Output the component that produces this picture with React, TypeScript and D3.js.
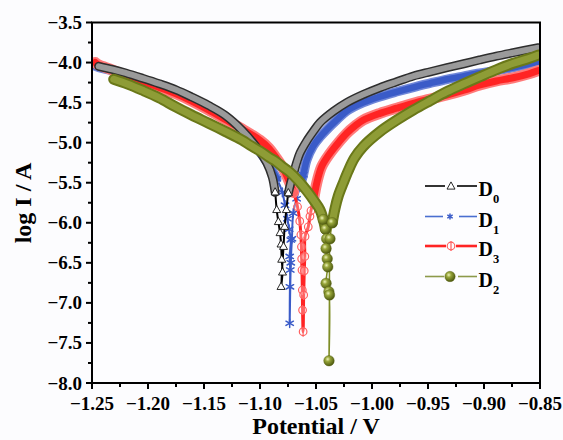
import React from 'react';
import * as d3 from 'd3';

const xTickValues = [-1.25, -1.2, -1.15, -1.1, -1.05, -1.0, -0.95, -0.9, -0.85];
const yTickValues = [-3.5, -4.0, -4.5, -5.0, -5.5, -6.0, -6.5, -7.0, -7.5, -8.0];
const xMinorValues = [-1.225, -1.175, -1.125, -1.075, -1.025, -0.975, -0.925, -0.875];
const yMinorValues = [-3.75, -4.25, -4.75, -5.25, -5.75, -6.25, -6.75, -7.25, -7.75];

const d0Potential = [-1.244,-1.232,-1.220,-1.205,-1.190,-1.175,-1.161,-1.146,-1.131,-1.116,-1.101,-1.094,-1.089,-1.0865,-1.0851,-1.0836,-1.0821,-1.0812,-1.0806,-1.0799,-1.0812,-1.0790,-1.0780,-1.0765,-1.0747,-1.0725,-1.0703,-1.0673,-1.0643,-1.0583,-1.0524,-1.0464,-1.0345,-1.0226,-1.008,-0.993,-0.978,-0.963,-0.948,-0.933,-0.918,-0.904,-0.889,-0.874,-0.8515];
const d0LogI = [-4.047,-4.085,-4.13,-4.195,-4.264,-4.34,-4.43,-4.535,-4.659,-4.846,-5.096,-5.25,-5.43,-5.62,-5.84,-5.99,-6.128,-6.27,-6.46,-6.62,-6.80,-6.30,-6.05,-5.84,-5.63,-5.50,-5.40,-5.25,-5.13,-4.98,-4.86,-4.75,-4.61,-4.50,-4.40,-4.314,-4.24,-4.168,-4.115,-4.064,-4.015,-3.968,-3.92,-3.877,-3.815];

const d1Potential = [-1.250,-1.244,-1.232,-1.220,-1.205,-1.190,-1.175,-1.161,-1.146,-1.131,-1.116,-1.101,-1.092,-1.085,-1.080,-1.0777,-1.0755,-1.074,-1.0725,-1.0735,-1.0730,-1.0733,-1.0735,-1.0725,-1.0715,-1.0703,-1.0673,-1.0643,-1.0613,-1.0583,-1.0524,-1.0464,-1.0405,-1.0315,-1.0226,-1.008,-0.993,-0.978,-0.963,-0.948,-0.933,-0.918,-0.904,-0.889,-0.874,-0.8515];
const d1LogI = [-4.03,-4.06,-4.10,-4.15,-4.215,-4.285,-4.365,-4.455,-4.56,-4.685,-4.87,-5.10,-5.28,-5.45,-5.62,-5.78,-5.95,-6.08,-6.215,-6.42,-6.59,-6.80,-7.255,-6.50,-6.20,-5.88,-5.70,-5.55,-5.40,-5.22,-5.04,-4.93,-4.84,-4.717,-4.605,-4.50,-4.426,-4.365,-4.309,-4.258,-4.209,-4.17,-4.134,-4.10,-4.064,-3.989];

const d3Potential = [-1.247,-1.244,-1.232,-1.220,-1.205,-1.190,-1.175,-1.161,-1.146,-1.131,-1.116,-1.100,-1.092,-1.085,-1.079,-1.075,-1.070,-1.0665,-1.0645,-1.0635,-1.0630,-1.0628,-1.0625,-1.0622,-1.0620,-1.0615,-1.0610,-1.0605,-1.0600,-1.0598,-1.0569,-1.0554,-1.0545,-1.052,-1.0494,-1.045,-1.0375,-1.030,-1.0226,-1.015,-1.0077,-0.9929,-0.978,-0.9631,-0.948,-0.9333,-0.918,-0.9036,-0.889,-0.874,-0.860,-0.8515];
const d3LogI = [-4.00,-4.03,-4.09,-4.16,-4.235,-4.31,-4.39,-4.48,-4.59,-4.71,-4.83,-4.97,-5.07,-5.20,-5.33,-5.45,-5.62,-5.80,-5.98,-6.15,-6.30,-6.45,-6.59,-6.84,-7.09,-7.36,-6.90,-6.60,-6.42,-6.17,-6.05,-5.92,-5.85,-5.70,-5.508,-5.30,-5.133,-5.00,-4.883,-4.79,-4.717,-4.634,-4.57,-4.509,-4.455,-4.405,-4.345,-4.28,-4.23,-4.19,-4.14,-4.10];

const d2Potential = [-1.2306,-1.218,-1.2054,-1.190,-1.1756,-1.161,-1.1458,-1.131,-1.1161,-1.109,-1.1005,-1.0911,-1.0863,-1.080,-1.0732,-1.066,-1.0583,-1.052,-1.0464,-1.0435,-1.0415,-1.0405,-1.0410,-1.0400,-1.0395,-1.0410,-1.0385,-1.0384,-1.0380,-1.0375,-1.0355,-1.033,-1.030,-1.0256,-1.0212,-1.0156,-1.008,-0.9929,-0.978,-0.9631,-0.948,-0.9333,-0.918,-0.9036,-0.889,-0.8738,-0.860,-0.8515];
const d2LogI = [-4.209,-4.27,-4.343,-4.44,-4.551,-4.655,-4.758,-4.86,-4.967,-5.03,-5.10,-5.19,-5.23,-5.30,-5.37,-5.47,-5.60,-5.72,-5.84,-5.96,-6.08,-6.20,-6.32,-6.45,-6.55,-6.756,-6.86,-7.722,-6.90,-6.20,-6.00,-5.82,-5.66,-5.50,-5.35,-5.19,-5.05,-4.863,-4.72,-4.592,-4.475,-4.364,-4.265,-4.177,-4.09,-4.009,-3.95,-3.906];

type Pt = [number, number];
const zip = (v: number[], i: number[]): Pt[] => v.map((x, k) => [x, i[k]] as Pt);

const W = 563, H = 440;
const x = d3.scaleLinear().domain([-1.25, -0.85]).range([92, 540]);
const y = d3.scaleLinear().domain([-8, -3.5]).range([383, 22.5]);
const line = d3.line<Pt>().x(d => x(d[0])).y(d => y(d[1])).curve(d3.curveCatmullRom.alpha(0.5));

function runs(pts: Pt[], cut: number): Pt[][] {
  const out: Pt[][] = [];
  let cur: Pt[] = [];
  pts.forEach(p => {
    if (p[1] >= cut) cur.push(p);
    else { if (cur.length > 1) out.push(cur); cur = []; }
  });
  if (cur.length > 1) out.push(cur);
  return out;
}

const FONT = '"Liberation Serif", "Times New Roman", serif';
const fmtX = (v: number) => d3.format('.2f')(v).replace('-', '\u2212');
const fmtY = (v: number) => d3.format('.1f')(v).replace('-', '\u2212');

const BLUE = '#3a5bc8';
const RED = '#ff2424';
const OLIVE = '#7e8d27';

function Triangle({ cx, cy }: { cx: number; cy: number }) {
  return <path d={`M${cx},${cy - 4.6} L${cx + 4},${cy + 2.6} L${cx - 4},${cy + 2.6} Z`} fill="#fff" stroke="#111" strokeWidth={0.9} />;
}
function Asterisk({ cx, cy, r = 4.3 }: { cx: number; cy: number; r?: number }) {
  const angles = [90, 30, 150];
  return (
    <g stroke={BLUE} strokeWidth={1.5} strokeLinecap="round">
      {angles.map(a => {
        const rad = (a * Math.PI) / 180;
        const dx = Math.cos(rad) * r, dy = Math.sin(rad) * r;
        return <line key={a} x1={cx - dx} y1={cy - dy} x2={cx + dx} y2={cy + dy} />;
      })}
    </g>
  );
}
function Phi({ cx, cy }: { cx: number; cy: number }) {
  return (
    <g stroke="#ff6060" strokeWidth={1.2} fill="rgba(255,255,255,0.3)">
      <circle cx={cx} cy={cy} r={3.8} />
      <line x1={cx} y1={cy - 5} x2={cx} y2={cy + 5} />
    </g>
  );
}
function Sphere({ cx, cy, r = 5.3 }: { cx: number; cy: number; r?: number }) {
  return <circle cx={cx} cy={cy} r={r} fill="url(#sphereGrad)" stroke="#55610f" strokeWidth={0.4} />;
}

const seriesDefs = [
  { key: 'D1', pts: zip(d1Potential, d1LogI), cut: -5.6, marker: 'ast' },
  { key: 'D3', pts: zip(d3Potential, d3LogI), cut: -5.75, marker: 'phi' },
  { key: 'D0', pts: zip(d0Potential, d0LogI), cut: -5.7, marker: 'tri' },
  { key: 'D2', pts: zip(d2Potential, d2LogI), cut: -6.1, marker: 'sph' },
];

function Band({ def }: { def: typeof seriesDefs[number] }) {
  const segs = runs(def.pts, def.cut);
  const full = line(def.pts) || '';
  const markerPts = def.pts.filter(p => p[1] < def.cut + 0.2);
  const m = (p: Pt, i: number) => {
    const cx = x(p[0]), cy = y(p[1]);
    if (def.marker === 'tri') return <Triangle key={i} cx={cx} cy={cy} />;
    if (def.marker === 'ast') return <Asterisk key={i} cx={cx} cy={cy} />;
    if (def.marker === 'phi') return <Phi key={i} cx={cx} cy={cy} />;
    return <Sphere key={i} cx={cx} cy={cy} />;
  };
  let outer = '#2e2e2e', inner = '#9a9a9a', ow = 9, iw = 6, lineColor = '#000', lw = 2;
  if (def.key === 'D1') { outer = '#6f86d8'; inner = BLUE; ow = 9.5; iw = 6.5; lineColor = BLUE; lw = 2; }
  if (def.key === 'D3') { outer = '#ff7a7a'; inner = RED; ow = 11; iw = 7; lineColor = RED; lw = 3; }
  if (def.key === 'D2') { outer = '#6a7819'; inner = '#8e9c36'; ow = 11; iw = 7; lineColor = OLIVE; lw = 1.5; }
  return (
    <g>
      <path d={full} fill="none" stroke={lineColor} strokeWidth={lw} />
      {segs.map((s, i) => (
        <g key={i}>
          <path d={line(s) || ''} fill="none" stroke={outer} strokeWidth={ow} strokeLinecap="round" strokeLinejoin="round" />
          <path d={line(s) || ''} fill="none" stroke={inner} strokeWidth={iw} strokeLinecap="round" strokeLinejoin="round" />
        </g>
      ))}
      {markerPts.map(m)}
    </g>
  );
}

const legendRows = [
  { name: 'D', sub: '0', cy: 186, kind: 'tri' },
  { name: 'D', sub: '1', cy: 216.5, kind: 'ast' },
  { name: 'D', sub: '3', cy: 246, kind: 'phi' },
  { name: 'D', sub: '2', cy: 276.5, kind: 'sph' },
];

function LegendRow({ row }: { row: typeof legendRows[number] }) {
  const cx = 451;
  let col = '#000', lw = 1.6, gap = 6;
  let mk: React.ReactNode = null;
  if (row.kind === 'tri') { mk = <Triangle cx={cx} cy={row.cy + 0.5} />; }
  if (row.kind === 'ast') { col = '#4a6fd0'; lw = 1.6; gap = 8; mk = <Asterisk cx={cx - 1} cy={row.cy} r={2.6} />; }
  if (row.kind === 'phi') { col = RED; lw = 2.6; gap = 5; mk = <Phi cx={cx} cy={row.cy} />; }
  if (row.kind === 'sph') { col = '#8d9a4a'; lw = 1.6; gap = 7; mk = <Sphere cx={cx - 1} cy={row.cy} r={5.2} />; }
  return (
    <g>
      <line x1={425} x2={cx - gap} y1={row.cy} y2={row.cy} stroke={col} strokeWidth={lw} />
      <line x1={cx + gap} x2={477} y1={row.cy} y2={row.cy} stroke={col} strokeWidth={lw} />
      {mk}
      <text x={478.5} y={row.cy + 10} fontFamily={FONT} fontWeight="bold" fontSize={20} fill="#000">
        {row.name}
        <tspan fontSize={12.5} dy={7}>{row.sub}</tspan>
      </text>
    </g>
  );
}

export default function App() {
  return (
    <svg width={W} height={H} viewBox={`0 0 ${W} ${H}`} style={{ position: 'absolute', left: 0, top: 0, background: '#fcfcfe' }}>
      <defs>
        <radialGradient id="sphereGrad" cx="0.38" cy="0.35" r="0.65">
          <stop offset="0%" stopColor="#eef3b8" />
          <stop offset="35%" stopColor="#97a53a" />
          <stop offset="100%" stopColor="#4e5a10" />
        </radialGradient>
        <clipPath id="plotClip">
          <rect x={92} y={22.5} width={448} height={360.5} />
        </clipPath>
      </defs>
      <rect x={92} y={22.5} width={448} height={360.5} fill="#fdfdff" />
      <g clipPath="url(#plotClip)">
        {seriesDefs.map(def => <Band key={def.key} def={def} />)}
      </g>
      <rect x={92} y={22.5} width={448} height={360.5} fill="none" stroke="#000" strokeWidth={2} />
      {xTickValues.map(v => (
        <g key={v}>
          <line x1={x(v)} x2={x(v)} y1={383} y2={389} stroke="#000" strokeWidth={2} />
          <text x={x(v)} y={410} textAnchor="middle" fontFamily={FONT} fontWeight="bold" fontSize={19}>{fmtX(v)}</text>
        </g>
      ))}
      {xMinorValues.map(v => (
        <line key={v} x1={x(v)} x2={x(v)} y1={383} y2={387} stroke="#000" strokeWidth={2} />
      ))}
      {yTickValues.map(v => (
        <g key={v}>
          <line x1={86} x2={92} y1={y(v)} y2={y(v)} stroke="#000" strokeWidth={2} />
          <text x={82} y={y(v) + 6.5} textAnchor="end" fontFamily={FONT} fontWeight="bold" fontSize={19}>{fmtY(v)}</text>
        </g>
      ))}
      {yMinorValues.map(v => (
        <line key={v} x1={88} x2={92} y1={y(v)} y2={y(v)} stroke="#000" strokeWidth={2} />
      ))}
      {legendRows.map(r => <LegendRow key={r.sub} row={r} />)}
      <text x={316} y={434} textAnchor="middle" fontFamily={FONT} fontWeight="bold" fontSize={24}>Potential / V</text>
      <text transform="translate(31,203) rotate(-90)" textAnchor="middle" fontFamily={FONT} fontWeight="bold" fontSize={24}>log I / A</text>
    </svg>
  );
}
